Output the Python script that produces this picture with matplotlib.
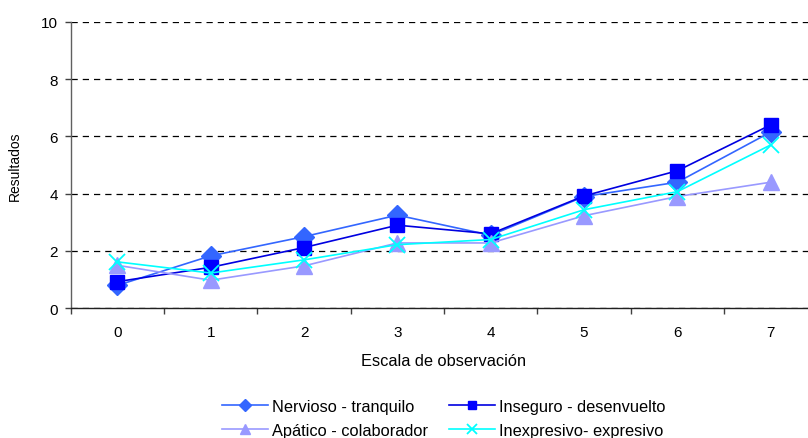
import matplotlib
matplotlib.use("Agg")
import matplotlib.pyplot as plt
from matplotlib.ticker import FixedLocator, NullFormatter

plt.rcParams['font.family'] = ['Liberation Sans', 'DejaVu Sans']

categories = [0, 1, 2, 3, 4, 5, 6, 7]
nervioso = [0.8, 1.83, 2.5, 3.25, 2.55, 3.9, 4.4, 6.15]
inseguro = [0.93, 1.43, 2.12, 2.9, 2.6, 3.92, 4.8, 6.4]
apatico = [1.5, 0.98, 1.48, 2.28, 2.28, 3.23, 3.9, 4.4]
inexpresivo = [1.62, 1.23, 1.69, 2.22, 2.4, 3.44, 4.07, 5.7]

series_names = ["Nervioso - tranquilo", "Inseguro - desenvuelto",
                "Apático - colaborador", "Inexpresivo- expresivo"]
y_ticks = [0, 2, 4, 6, 8, 10]

fig = plt.figure(figsize=(8.08, 4.39), dpi=100)
ax = fig.add_axes([70.7 / 808, 1 - 309.3 / 439, (817.4 - 70.7) / 808, (309.3 - 22.7) / 439])

h1, = ax.plot(categories, nervioso, color='#3366FF', lw=1.2, marker='D', ms=10,
              mfc='#3366FF', mec='#3366FF', label=series_names[0])
h2, = ax.plot(categories, inseguro, color='#0000E0', lw=1.2, marker='s', ms=10,
              mfc='#0000FF', mec='#0000FF', label=series_names[1])
h3, = ax.plot(categories, apatico, color='#9999FF', lw=1.2, marker='^', ms=11,
              mfc='#9999FF', mec='#9999FF', label=series_names[2])
h4, = ax.plot(categories, inexpresivo, color='#00FFFF', lw=1.2, marker='x', ms=11,
              mew=1.3, mec='#00FFFF', label=series_names[3])

ax.set_xlim(-0.5, 7.5)
ax.set_ylim(0, 10)
ax.set_yticks(y_ticks)
ax.yaxis.grid(True, linestyle=(0, (5, 4)), color='#000000', lw=0.9)
ax.set_axisbelow(True)

ax.xaxis.set_major_locator(FixedLocator([c + 0.5 for c in categories[:-1]] + [-0.5]))
ax.xaxis.set_major_formatter(NullFormatter())
ax.xaxis.set_minor_locator(FixedLocator(categories))
ax.set_xticklabels([str(c) for c in categories], minor=True)
ax.tick_params(axis='x', which='minor', length=0, pad=12, labelsize=11)
ax.tick_params(axis='x', which='major', length=4, width=1, color='#404040')
ax.tick_params(axis='y', length=4, width=1, color='#404040', labelsize=11, pad=5)

for s in ['top', 'right']:
    ax.spines[s].set_visible(False)
ax.spines['left'].set_color('#606060')
ax.spines['bottom'].set_color('#202020')
ax.spines['left'].set_linewidth(1)
ax.spines['bottom'].set_linewidth(1)

ax.set_ylabel("Resultados", fontsize=10, labelpad=14)
fig.text(444 / 808, 1 - 366 / 439, "Escala de observación", fontsize=11.8,
         ha='center', va='baseline')

fig.legend([h1, h3, h2, h4], [series_names[0], series_names[2], series_names[1], series_names[3]],
           ncol=2, loc='center', bbox_to_anchor=(444 / 808, 1 - 419.5 / 439),
           frameon=False, fontsize=11.8, markerscale=0.6, handlelength=2.8,
           columnspacing=1.3, handletextpad=0.25, labelspacing=0.55,
           borderpad=0.2)

fig.savefig("out.png", dpi=100)
